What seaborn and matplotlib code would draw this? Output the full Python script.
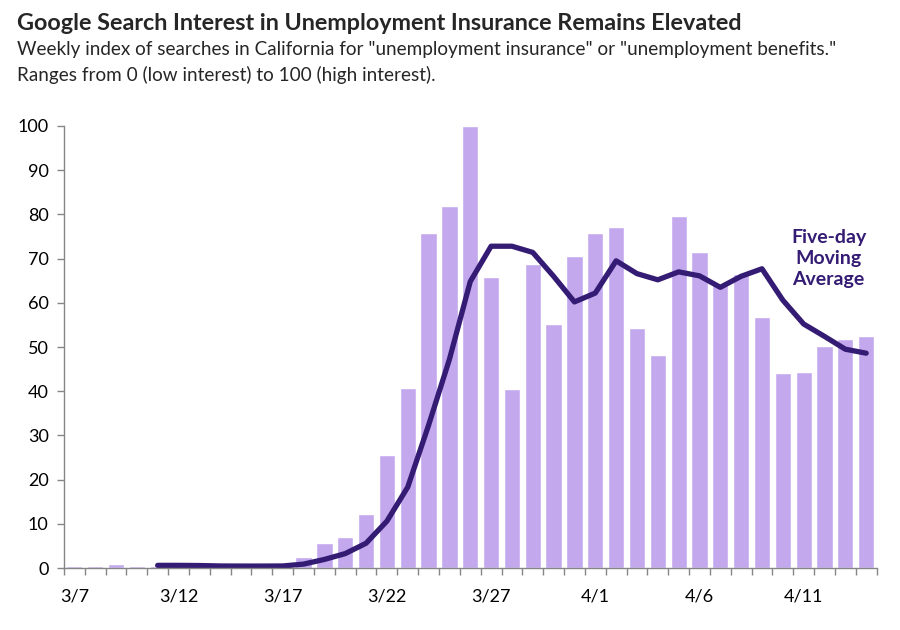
import numpy as np
import pandas as pd
import seaborn as sns
from matplotlib import pyplot as plt
from matplotlib.ticker import MultipleLocator

# daily search index, 3/7 - 4/14
days = pd.date_range("2020-03-07", periods=39, freq="D")
day_labels = [f"{d.month}/{d.day}" for d in days]
interest = [0.5, 0.5, 0.9, 0.5, 0.5, 0.5, 0.4, 0.4, 0.4, 0.5,
            0.6, 2.5, 5.7, 7.0, 12.2, 25.6, 40.8, 75.7, 81.9, 100,
            65.8, 40.6, 68.7, 55.1, 70.7, 75.7, 77.1, 54.2, 48.3, 79.6,
            71.4, 64.0, 66.5, 56.9, 44.1, 44.3, 50.3, 51.7, 52.6]
# five-day moving average (starts on 3/11)
moving_avg = [np.nan, np.nan, np.nan, np.nan, 0.6, 0.6, 0.56, 0.46, 0.44, 0.44,
              0.46, 0.88, 1.94, 3.26, 5.6, 10.6, 18.3, 32.3, 47.2, 64.8,
              72.8, 72.8, 71.4, 66.0, 60.2, 62.2, 69.5, 66.6, 65.2, 67.0,
              66.1, 63.5, 66.0, 67.7, 60.6, 55.2, 52.4, 49.5, 48.6]

df = pd.DataFrame({"day": day_labels, "interest": interest, "ma": moving_avg})
df["pos"] = np.arange(len(df))

sns.set_style("white")
plt.rcParams["font.family"] = ["Lato", "DejaVu Sans"]

bar_color = "#C3A8EE"
line_color = "#341B73"
axis_gray = "#868686"

fig = plt.figure(figsize=(9, 6.3), dpi=100)
ax = fig.add_axes([0.071, 0.0984, 0.903, 0.7016])

sns.barplot(data=df, x="day", y="interest", color=bar_color, width=0.78,
            saturation=1, ax=ax)
sns.lineplot(data=df, x="pos", y="ma", color=line_color, linewidth=3.8,
             ax=ax)

ax.set_xlim(-0.5, len(df) - 0.5)
ax.set_ylim(0, 100)
ax.set_xlabel("")
ax.set_ylabel("")

ax.yaxis.set_major_locator(MultipleLocator(10))
ax.set_xticks(df["pos"][::5])
ax.set_xticklabels(df["day"][::5])
ax.set_xticks(np.arange(-0.5, len(df), 1), minor=True)
ax.tick_params(which="both", bottom=True, left=True, color=axis_gray,
               labelcolor="black", direction="out")
ax.tick_params(axis="x", which="major", length=0, pad=15, labelsize=13)
ax.tick_params(axis="x", which="minor", length=5, width=1)
ax.tick_params(axis="y", which="major", length=5, width=1, labelsize=13, pad=6)

for side in ["top", "right"]:
    ax.spines[side].set_visible(False)
for side in ["left", "bottom"]:
    ax.spines[side].set_color(axis_gray)
    ax.spines[side].set_linewidth(1)

ax.text(36.2, 70, "Five-day\nMoving\nAverage", color=line_color,
        fontsize=14, fontweight="bold", ha="center", va="center",
        linespacing=1.3)

fig.text(0.019, 0.952, "Google Search Interest in Unemployment Insurance Remains Elevated",
         fontsize=16.8, fontweight="bold", ha="left", va="baseline")
fig.text(0.019, 0.912,
         'Weekly index of searches in California for "unemployment insurance" or "unemployment benefits."',
         fontsize=13.6, ha="left", va="baseline")
fig.text(0.019, 0.871, "Ranges from 0 (low interest) to 100 (high interest).",
         fontsize=13.6, ha="left", va="baseline")

fig.savefig("out.png", dpi=100)
